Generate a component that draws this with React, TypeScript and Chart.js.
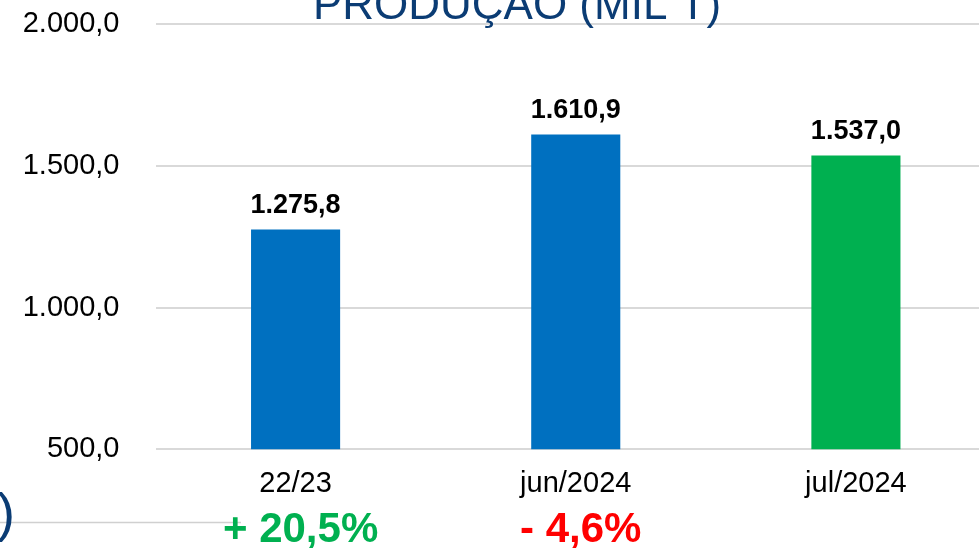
import { useEffect, useRef } from 'react';
import { Chart, registerables } from 'chart.js';

Chart.register(...registerables);

const categories = ['22/23', 'jun/2024', 'jul/2024'];
const production = [1275.8, 1610.9, 1537.0];
const barColors = ['#0070C0', '#0070C0', '#00B050'];
const changeLabels = ['+ 20,5%', '- 4,6%', ''];
const changeColors = ['#00B050', '#FF0000', '#000000'];
const yMin = 500;
const yMax = 2000;
const yStep = 500;
const title = 'PRODUÇÃO (MIL T)';

const FONT = '"Liberation Sans", Arial, sans-serif';
const SHIFT = 29;
const CANVAS_W = 996;
const CANVAS_H = 548 + SHIFT;

function fmt(v: number): string {
  const [i, d] = v.toFixed(1).split('.');
  return i.replace(/\B(?=(\d{3})+(?!\d))/g, '.') + ',' + d;
}

const overlay = {
  id: 'overlay',
  afterDatasetsDraw(chart: any) {
    const ctx = chart.ctx as CanvasRenderingContext2D;
    const meta = chart.getDatasetMeta(0);
    ctx.save();
    ctx.font = `bold 27px ${FONT}`;
    ctx.fillStyle = '#000000';
    ctx.textAlign = 'center';
    ctx.textBaseline = 'alphabetic';
    meta.data.forEach((bar: any, i: number) => {
      ctx.fillText(fmt(production[i]), bar.x, bar.y - 17);
    });
    ctx.font = `44px ${FONT}`;
    ctx.fillStyle = '#0B3C74';
    ctx.fillText(title, 517, 19 + SHIFT);
    ctx.strokeStyle = '#D0D0D0';
    ctx.lineWidth = 1.5;
    ctx.beginPath();
    ctx.moveTo(0, 522.5 + SHIFT);
    ctx.lineTo(241, 522.5 + SHIFT);
    ctx.stroke();
    ctx.font = `54px ${FONT}`;
    ctx.textAlign = 'left';
    ctx.fillStyle = '#0B3C74';
    ctx.fillText(')', -3, 531 + SHIFT);
    const xs = chart.scales.x;
    ctx.font = `bold 42px ${FONT}`;
    ctx.textAlign = 'center';
    changeLabels.forEach((t, i) => {
      if (!t) return;
      ctx.fillStyle = changeColors[i];
      ctx.fillText(t, xs.getPixelForValue(i) + 5, 542 + SHIFT);
    });
    ctx.restore();
  },
};

export default function App() {
  const ref = useRef<HTMLCanvasElement | null>(null);
  useEffect(() => {
    if (!ref.current) return;
    const chart = new Chart(ref.current, {
      type: 'bar',
      data: {
        labels: categories,
        datasets: [
          {
            data: production,
            backgroundColor: barColors,
            borderWidth: 0,
            categoryPercentage: 1,
            barPercentage: 0.318,
          },
        ],
      },
      options: {
        responsive: false,
        animation: false,
        devicePixelRatio: 1,
        layout: { padding: 0 },
        plugins: {
          legend: { display: false },
          tooltip: { enabled: false },
          title: { display: false },
        },
        scales: {
          x: {
            grid: { display: false, drawTicks: false },
            border: { display: false },
            ticks: {
              font: { family: FONT, size: 29 },
              color: '#000000',
              padding: 17,
            },
            afterFit: (s: any) => {
              s.height = 548 - 449.3;
            },
          },
          y: {
            min: yMin,
            max: yMax,
            grid: { color: '#D9D9D9', lineWidth: 2, drawTicks: false },
            border: { display: false },
            ticks: {
              stepSize: yStep,
              font: { family: FONT, size: 29 },
              color: '#000000',
              padding: 36,
              callback: (v: any) => fmt(Number(v)),
            },
            afterFit: (s: any) => {
              s.width = 155.5;
            },
          },
        },
      },
      plugins: [overlay],
    });
    return () => chart.destroy();
  }, []);
  return (
    <div
      style={{
        position: 'fixed',
        left: 0,
        top: 0,
        width: 979,
        height: 548,
        overflow: 'hidden',
        background: '#ffffff',
      }}
    >
      <canvas
        ref={ref}
        width={CANVAS_W}
        height={CANVAS_H}
        style={{ display: 'block', marginTop: -SHIFT }}
      />
    </div>
  );
}
